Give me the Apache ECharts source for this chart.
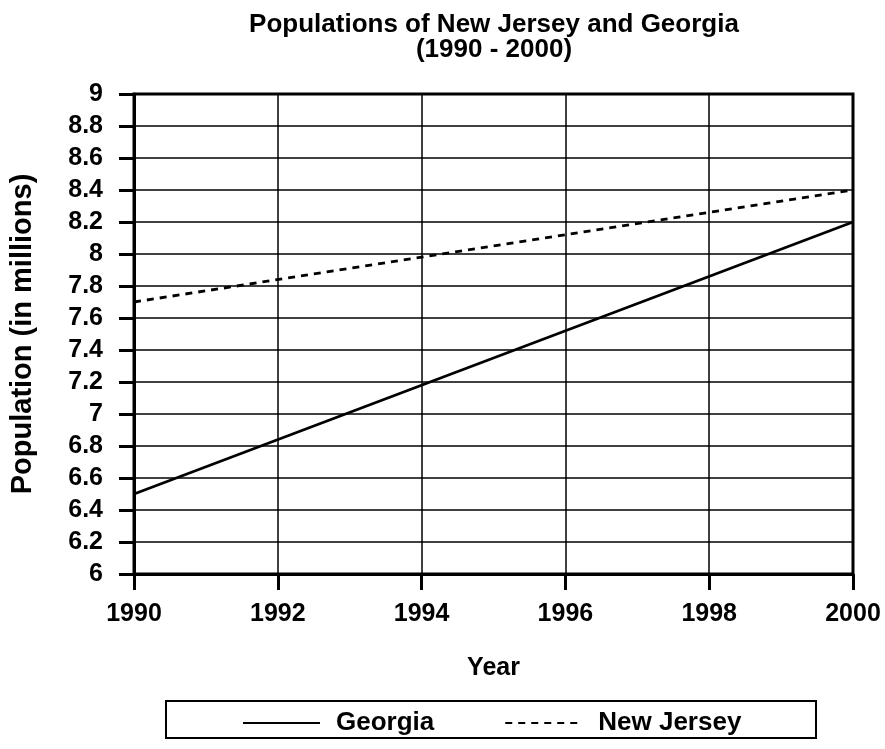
<!DOCTYPE html>
<html><head><meta charset="utf-8">
<script src="https://cdn.jsdelivr.net/npm/echarts@6/dist/echarts.min.js"></script>
<style>html,body{margin:0;padding:0;background:#fff}#c{width:885px;height:749px}</style>
</head><body><div id="c"></div>
<script>
const years = [1990, 2000];
const georgia = [6.5, 8.2];
const newJersey = [7.7, 8.4];
const FONT = '"Liberation Sans", Arial, sans-serif';
const chart = echarts.init(document.getElementById('c'), null, {renderer: 'canvas'});
chart.setOption({
  animation: false,
  backgroundColor: '#fff',
  title: {
    text: 'Populations of New Jersey and Georgia\n(1990 - 2000)',
    left: 489, textAlign: 'center', top: 7,
    textStyle: {fontFamily: FONT, fontWeight: 'bold', fontSize: 26, color: '#000', lineHeight: 25}
  },
  grid: {left: 133, right: 32, top: 94, bottom: 175, show: true, borderColor: '#000', borderWidth: 3},
  graphic: [{type: 'rect', shape: {x: 166, y: 701, width: 650, height: 37}, style: {fill: 'none', stroke: '#000', lineWidth: 2}}],
  legend: {
    top: 705, left: 237, itemWidth: 77, itemHeight: 2, itemGap: 70,
    itemStyle: {color: 'rgba(0,0,0,0)', borderWidth: 0, opacity: 0},
    textStyle: {fontFamily: FONT, fontWeight: 'bold', fontSize: 26, color: '#000', padding: [0, 0, 0, 11]},
    data: ['Georgia', 'New Jersey']
  },
  xAxis: {
    type: 'value', min: 1990, max: 2000, interval: 2,
    name: 'Year', nameLocation: 'middle', nameGap: 82,
    nameTextStyle: {fontFamily: FONT, fontWeight: 'bold', fontSize: 25, color: '#000'},
    axisLine: {lineStyle: {color: '#000', width: 3}},
    axisTick: {show: true, length: 16, lineStyle: {color: '#000', width: 3}},
    axisLabel: {fontFamily: FONT, fontWeight: 'bold', fontSize: 25, color: '#000', margin: 28,
      formatter: v => String(v)},
    splitLine: {show: true, lineStyle: {color: '#000', width: 1.5}}
  },
  yAxis: {
    type: 'value', min: 6, max: 9, interval: 0.2,
    name: 'Population (in millions)', nameLocation: 'middle', nameGap: 97,
    nameTextStyle: {fontFamily: FONT, fontWeight: 'bold', fontSize: 29, color: '#000'},
    axisLine: {show: true, lineStyle: {color: '#000', width: 3}},
    axisTick: {show: true, length: 15, lineStyle: {color: '#000', width: 3}},
    axisLabel: {fontFamily: FONT, fontWeight: 'bold', fontSize: 25, color: '#000', margin: 31,
      formatter: v => String(Math.round(v * 10) / 10)},
    splitLine: {show: true, lineStyle: {color: '#000', width: 1.5}}
  },
  series: [
    {name: 'Georgia', type: 'line', data: years.map((y, i) => [y, georgia[i]]), symbol: 'none',
      lineStyle: {color: '#000', width: 2.8, type: 'solid'}, itemStyle: {color: '#000'}},
    {name: 'New Jersey', type: 'line', data: years.map((y, i) => [y, newJersey[i]]), symbol: 'none',
      lineStyle: {color: '#000', width: 2.8, type: [7, 6]}, itemStyle: {color: '#000'}}
  ]
});
</script></body></html>
